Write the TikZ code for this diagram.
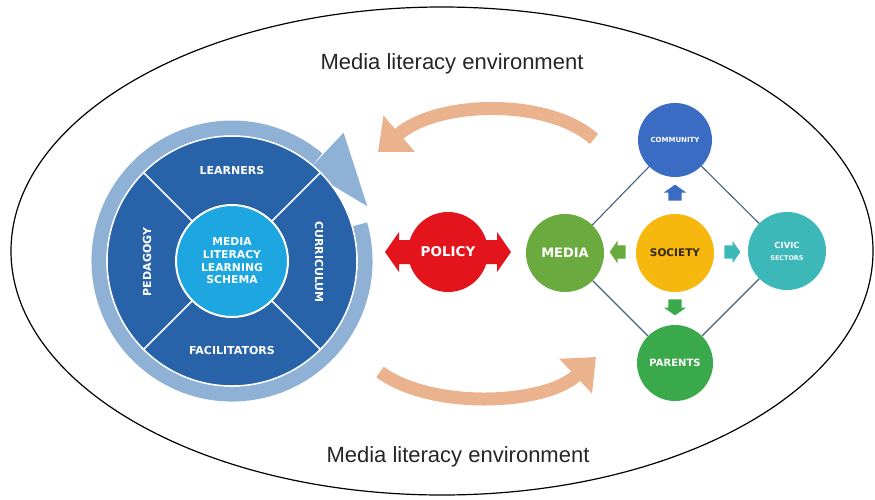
\documentclass[tikz,border=0pt]{standalone}
\usepackage{fontspec}
\setmainfont{Liberation Sans}
\newfontfamily\capsfont{DejaVu Sans}
\usetikzlibrary{arrows.meta,shapes.arrows}

\definecolor{wheelblue}{HTML}{2862A9}
\definecolor{ringblue}{HTML}{8FB1D5}
\definecolor{hubblue}{HTML}{1DA6E0}
\definecolor{policyred}{HTML}{E3141B}
\definecolor{mediagreen}{HTML}{6AAA3E}
\definecolor{societyyellow}{HTML}{F6B80F}
\definecolor{societytext}{HTML}{33291A}
\definecolor{communityblue}{HTML}{3B6CC4}
\definecolor{civicteal}{HTML}{3CB8B9}
\definecolor{parentsgreen}{HTML}{3AA94B}
\definecolor{flowpeach}{HTML}{EAB38E}
\definecolor{linkslate}{HTML}{44617F}

\begin{document}
\begin{tikzpicture}[x=1pt,y=-1pt,
  seg/.style={text=white,font=\capsfont\bfseries\fontsize{11}{13}\selectfont},
  ball/.style={circle,inner sep=0pt,text=white,align=center,font=\capsfont\bfseries},
  link/.style={draw=linkslate,line width=1.1pt},
  push/.style={single arrow,inner xsep=0pt,inner ysep=6.5pt,single arrow head extend=4.5pt,
    minimum height=16pt,single arrow tip angle=110},
  flow/.style={draw=flowpeach,line width=13pt,-{Triangle[length=28pt,width=46pt]}}]
\useasboundingbox (0,0) rectangle (875,499);

\draw[line width=1.2pt] (442,251) ellipse [x radius=431, y radius=244];
\node[text=black!85,font=\fontsize{22}{26}\selectfont] (envtop) at (452,64) {Media literacy environment};
\node[text=black!85,font=\fontsize{22}{26}\selectfont] (envbot) at (458,457) {Media literacy environment};

% learning wheel
\coordinate (wc) at (232,261);
\draw[ringblue,line width=15pt] ([shift={(-16:133)}]wc) arc[start angle=-16,end angle=310,radius=133];
\fill[ringblue,shift={(wc)}] (-50:118) -- (-49:170) -- (-22:146) -- cycle;
\node[circle,fill=wheelblue,draw=white,line width=1.5pt,minimum size=250pt,inner sep=0pt] (wheel) at (wc) {};
\node[ball,fill=hubblue,draw=white,line width=2pt,minimum size=112pt,
  font=\capsfont\bfseries\fontsize{10.8}{12.7}\selectfont] (hub) at (wc) {MEDIA\\LITERACY\\LEARNING\\SCHEMA};
\foreach \a in {45,135,225,315}
  \draw[white,line width=1.5pt] (hub.\a) -- (wheel.\a);
\node[seg] (learners) at (232,170) {LEARNERS};
\node[seg] (facilitators) at (232,350) {FACILITATORS};
\node[seg,rotate=90] (pedagogy) at (147,262) {PEDAGOGY};
\node[seg,rotate=-90] (curriculum) at (319,262) {CURRICULUM};

% policy
\coordinate (pc) at (448,252);
\fill[policyred,shift={(pc)}] (-63,0) -- (-49,-20) -- (-49,-12) -- (49,-12) -- (49,-20) -- (63,0)
  -- (49,20) -- (49,12) -- (-49,12) -- (-49,20) -- cycle;
\node[ball,fill=policyred,minimum size=80pt,font=\capsfont\bfseries\fontsize{13.5}{16}\selectfont] (policy) at (pc) {POLICY};

% society diamond
\node[ball,fill=mediagreen,minimum size=78pt,font=\capsfont\bfseries\fontsize{13}{15}\selectfont] (media) at (565,253) {MEDIA};
\node[ball,fill=societyyellow,text=societytext,minimum size=78pt,font=\capsfont\bfseries\fontsize{10.5}{12}\selectfont] (society) at (675,253) {SOCIETY};
\node[ball,fill=communityblue,minimum size=74pt,font=\capsfont\bfseries\fontsize{7}{8}\selectfont] (community) at (675,140) {COMMUNITY};
\node[ball,fill=civicteal,minimum size=78pt] (civic) at (787,251) {{\fontsize{8.4}{10}\selectfont CIVIC}\\{\fontsize{6.4}{8}\selectfont SECTORS}};
\node[ball,fill=parentsgreen,minimum size=76pt,font=\capsfont\bfseries\fontsize{10}{12}\selectfont] (parents) at (675,363) {PARENTS};
\draw[link] (media) -- (community) -- (civic) -- (parents) -- (media);

\node[push,fill=communityblue,rotate=90] (pushup) at (675,195) {};
\node[push,fill=mediagreen,rotate=180] (pushleft) at (620,252) {};
\node[push,fill=civicteal] (pushright) at (730,252) {};
\node[push,fill=parentsgreen,rotate=-90] (pushdown) at (675,305) {};

% feedback arrows
\coordinate (topfrom) at (594,139);
\coordinate (topto) at (378,152);
\coordinate (botfrom) at (380,372);
\coordinate (botto) at (596,357);
\draw[flow] (topfrom) .. controls (548,98) and (438,100) .. (topto);
\draw[flow] (botfrom) .. controls (432,410) and (545,405) .. (botto);
\end{tikzpicture}
\end{document}
